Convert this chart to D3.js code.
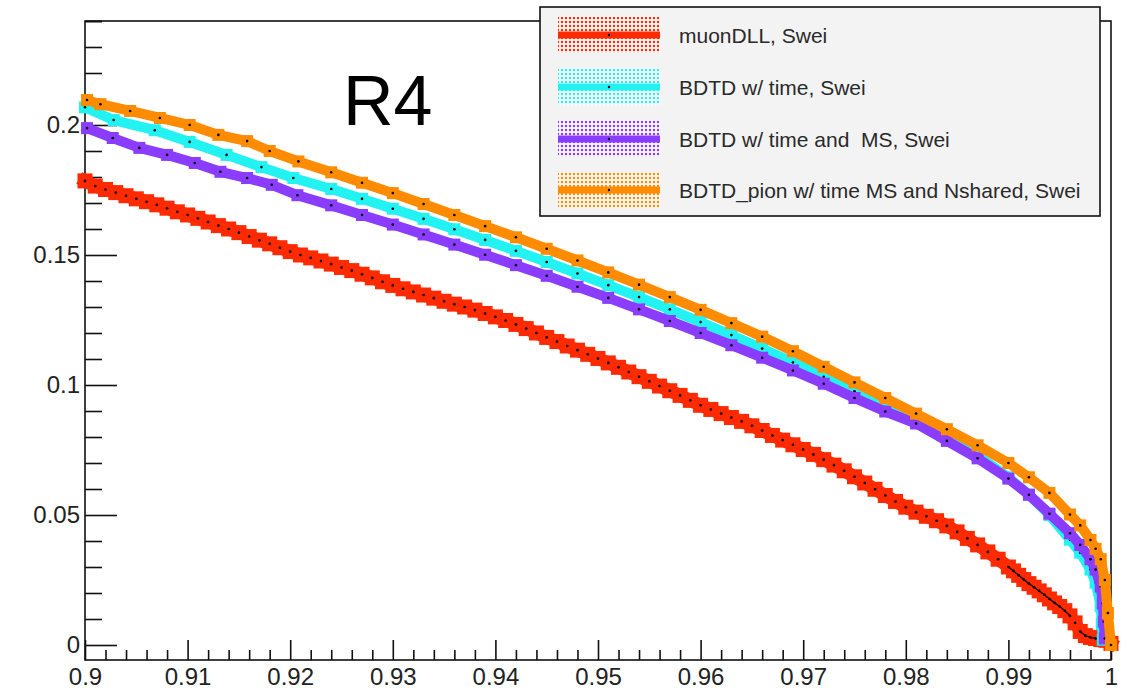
<!DOCTYPE html>
<html><head><meta charset="utf-8">
<script src="https://cdn.jsdelivr.net/npm/d3@7"></script>
<style>
body{margin:0;background:#fff}
svg{display:block}
text{font-family:"Liberation Sans",Arial,Helvetica,sans-serif}
</style>
</head><body>
<svg id="c" width="1130" height="693"></svg>
<script>
// ---------------- data ----------------
const seriesNames = ["muonDLL, Swei","BDTD w/ time, Swei","BDTD w/ time and  MS, Swei","BDTD_pion w/ time MS and Nshared, Swei"];
const seriesColors = ["#ff2a00","#22f2f2","#8a3cff","#ff8c00"];
const xTickLabels = ["0.9","0.91","0.92","0.93","0.94","0.95","0.96","0.97","0.98","0.99","1"];
const yTickLabels = ["0","0.05","0.1","0.15","0.2"];
const titleText = "R4";

const muonDLL = [
[0.900,.1785],[0.901,.1765],[0.902,.1752],[0.903,.1740],[0.904,.1728],[0.905,.1716],[0.906,.1705],[0.907,.1693],[0.908,.1680],[0.909,.1666],
[0.910,.1654],[0.911,.1641],[0.912,.1627],[0.913,.1613],[0.914,.1600],[0.915,.1586],[0.916,.1571],[0.917,.1557],[0.918,.1543],[0.919,.1528],
[0.920,.1513],[0.921,.1500],[0.922,.1489],[0.923,.1477],[0.924,.1465],[0.925,.1452],[0.926,.1440],[0.927,.1426],[0.928,.1412],[0.929,.1397],
[0.930,.1383],[0.931,.1370],[0.932,.1358],[0.933,.1346],[0.934,.1334],[0.935,.1322],[0.936,.1311],[0.937,.1300],[0.938,.1288],[0.939,.1275],
[0.940,.1262],[0.941,.1248],[0.942,.1233],[0.943,.1217],[0.944,.1200],[0.945,.1183],[0.946,.1167],[0.947,.1150],[0.948,.1134],[0.949,.1118],
[0.950,.1102],[0.951,.1085],[0.952,.1068],[0.953,.1050],[0.954,.1032],[0.955,.1014],[0.956,.0996],[0.957,.0978],[0.958,.0960],[0.959,.0941],
[0.960,.0922],[0.961,.0906],[0.962,.0890],[0.963,.0875],[0.964,.0860],[0.965,.0843],[0.966,.0825],[0.967,.0806],[0.968,.0788],[0.969,.0770],
[0.970,.0752],[0.971,.0733],[0.972,.0713],[0.973,.0692],[0.974,.0670],[0.975,.0647],[0.976,.0623],[0.977,.0599],[0.978,.0575],[0.979,.0552],
[0.980,.0530],[0.981,.0511],[0.982,.0495],[0.983,.0478],[0.984,.0458],[0.985,.0435],[0.986,.0410],[0.987,.0385],[0.988,.0358],[0.989,.0330],
[0.990,.0300],[0.9905,.0285],[0.991,.0268],[0.9915,.0252],[0.992,.0236],[0.9925,.0222],[0.993,.0208],[0.9935,.0193],[0.994,.0177],[0.9945,.0162],
[0.995,.0148],[0.9955,.0132],[0.996,.0112],[0.9965,.0085],[0.997,.0052],[0.9975,.0036],[0.998,.0029],[0.9985,.0025],[0.999,.0021],[0.9995,.0018],[1.000,.0006]
];

const bdtdTime = [
[0.900,.2068],[0.9028,.2019],[0.9068,.1980],[0.9102,.1935],[0.9138,.1885],[0.9172,.1838],[0.9203,.1796],
[0.924,.1754],[0.927,.1716],[0.930,.1678],[0.933,.1639],[0.936,.1599],[0.939,.1558],[0.942,.1516],[0.945,.1473],
[0.948,.1429],[0.951,.1384],[0.954,.1338],[0.957,.1291],[0.960,.1242],[0.963,.1192],[0.966,.1140],[0.969,.1087],
[0.972,.1032],[0.975,.0976],[0.978,.0912],[0.981,.0862],[0.984,.0796],[0.987,.0728],[0.990,.0645],[0.992,.0578],
[0.994,.0500],[0.996,.0405],[0.997,.0355],[0.998,.0290],[0.9985,.0240],[0.999,.0150],[0.9991,.0080],[0.9992,.0020]
];

const bdtdTimeMS = [
[0.9002,.1988],[0.9027,.1950],[0.9053,.1912],[0.908,.1885],[0.9107,.1854],[0.9132,.1820],[0.9158,.1796],[0.9182,.1770],[0.9207,.1730],
[0.924,.1691],[0.927,.1654],[0.930,.1617],[0.933,.1579],[0.936,.1540],[0.939,.1501],[0.942,.1461],[0.945,.1420],[0.948,.1378],
[0.951,.1335],[0.954,.1291],[0.957,.1246],[0.960,.1200],[0.963,.1153],[0.966,.1105],[0.969,.1056],[0.972,.1005],[0.975,.0950],
[0.978,.0898],[0.981,.0852],[0.984,.0785],[0.987,.0718],[0.990,.0640],[0.992,.0578],[0.994,.0505],[0.996,.0430],[0.997,.0385],
[0.998,.0330],[0.9985,.0290],[0.999,.0225],[0.9992,.0160],[0.9993,.0090],[0.9994,.0025]
];

const bdtdPion = [
[0.9002,.2096],[0.9015,.2080],[0.9044,.2054],[0.9073,.2027],[0.9102,.2000],[0.9130,.1962],[0.9158,.1938],[0.918,.1900],[0.9208,.1860],
[0.924,.1818],[0.927,.1778],[0.930,.1738],[0.933,.1696],[0.936,.1654],[0.939,.1611],[0.942,.1568],[0.945,.1524],[0.948,.1479],
[0.951,.1433],[0.954,.1386],[0.957,.1338],[0.960,.1289],[0.963,.1238],[0.966,.1186],[0.969,.1130],[0.972,.1070],[0.975,.1010],
[0.978,.0950],[0.981,.0890],[0.984,.0830],[0.987,.0768],[0.990,.0700],[0.992,.0645],[0.994,.0585],[0.996,.0502],[0.997,.0460],
[0.998,.0404],[0.9985,.0370],[0.999,.0330],[0.9994,.0250],[0.9997,.0123],[1.000,.0000]
];

// ---------------- layout ----------------
const svg = d3.select("#c");
const X0 = 85, X1 = 1111, Y0 = 660, Y1 = 21;
const x = d3.scaleLinear().domain([0.9, 1.0]).range([X0, X1]);
const y = d3.scaleLinear().domain([-0.00577, 0.24]).range([Y0, Y1]);

// patterns for legend
const defs = svg.append("defs");
seriesColors.forEach((c,i)=>{
  const p = defs.append("pattern").attr("id","pat"+i).attr("width",4).attr("height",4)
    .attr("patternUnits","userSpaceOnUse");
  p.append("rect").attr("width",4).attr("height",4).attr("fill","#ffffff").attr("opacity",0.6);
  p.append("circle").attr("cx",2).attr("cy",2).attr("r",1.25).attr("fill",c);
});

// axes
const xMajor = xTickLabels.map(Number);
const xMinor = d3.range(0, 51).map(i => 0.9 + i*0.002).filter(v => Math.abs(Math.round(v*100) - v*100) > 1e-6);
const yMajor = yTickLabels.map(Number);
const yMinor = d3.range(0, 25).map(i => i*0.01).filter(v => Math.abs(Math.round(v*20) - v*20) > 1e-6);

const gx = svg.append("g").attr("transform",`translate(0,${Y0})`);
gx.call(d3.axisBottom(x).tickValues(xMajor).tickSize(-20).tickPadding(8)
  .tickFormat((d,i)=>xTickLabels[i]));
gx.append("g").call(d3.axisBottom(x).tickValues(xMinor).tickSize(-10).tickFormat(""))
  .call(g=>g.select(".domain").remove());
gx.selectAll("text").attr("font-size",24).attr("fill","#222").attr("font-family","Liberation Sans, Arial, sans-serif");

const gy = svg.append("g").attr("transform",`translate(${X0},0)`);
gy.call(d3.axisLeft(y).tickValues(yMajor).tickSize(-32).tickPadding(5)
  .tickFormat((d,i)=>yTickLabels[i]));
gy.append("g").call(d3.axisLeft(y).tickValues(yMinor.concat([0.24])).tickSize(-17).tickFormat(""))
  .call(g=>g.select(".domain").remove());
gy.selectAll("text").attr("font-size",24).attr("fill","#222").attr("font-family","Liberation Sans, Arial, sans-serif");
svg.selectAll(".tick line").attr("stroke","#111").attr("stroke-width",1.6);
svg.selectAll(".domain").remove();

// frame
svg.append("rect").attr("x",X0).attr("y",Y1).attr("width",X1-X0).attr("height",Y0-Y1)
  .attr("fill","none").attr("stroke","#111").attr("stroke-width",1.6);

// series
const line = d3.line();
function drawSeries(data, color, band, size){
  const pts = data.map(d => [x(d[0]), y(d[1])]);
  const g = svg.append("g");
  g.append("path").attr("d", line(pts)).attr("fill","none").attr("stroke",color)
    .attr("stroke-width",band).attr("stroke-linejoin","round").attr("stroke-linecap","square");
  g.selectAll("rect").data(pts).join("rect")
    .attr("x",d=>d[0]-size/2).attr("y",d=>d[1]-size/2).attr("width",size).attr("height",size)
    .attr("fill",color);
  for(let i=1;i<pts.length;i++){
    const dx = pts[i][0]-pts[i-1][0], dy = pts[i][1]-pts[i-1][1];
    if (Math.hypot(dx,dy) < 7.5) {
      g.append("line").attr("x1",pts[i-1][0]).attr("y1",pts[i-1][1]).attr("x2",pts[i][0]).attr("y2",pts[i][1])
        .attr("stroke","#000").attr("stroke-width",1.3);
    }
  }
  g.selectAll("circle").data(pts).join("circle")
    .attr("cx",d=>d[0]).attr("cy",d=>d[1]).attr("r",1.3).attr("fill","#000");
}
drawSeries(muonDLL, seriesColors[0], 13, 15);
drawSeries(bdtdTime, seriesColors[1], 10, 12);
drawSeries(bdtdTimeMS, seriesColors[2], 10, 12);
drawSeries(bdtdPion, seriesColors[3], 10, 12);

// title
svg.append("text").attr("x",343).attr("y",125).attr("font-size",70).attr("fill","#000").text(titleText);

// legend
const LX = 540, LY = 7, LW = 560, LH = 209;
svg.append("rect").attr("x",LX).attr("y",LY).attr("width",LW).attr("height",LH)
  .attr("fill","#f3f3f3").attr("stroke","#111").attr("stroke-width",1.6);
const rowY = [35, 87, 139, 190];
seriesNames.forEach((n,i)=>{
  const cy = rowY[i];
  svg.append("rect").attr("x",558).attr("y",cy-18).attr("width",102).attr("height",36).attr("fill",`url(#pat${i})`);
  svg.append("rect").attr("x",558).attr("y",cy-3.5).attr("width",102).attr("height",7).attr("fill",seriesColors[i]);
  svg.append("circle").attr("cx",609).attr("cy",cy).attr("r",1.2).attr("fill","#000");
  svg.append("text").attr("x",679).attr("y",cy+7.5).attr("font-size",21).attr("fill","#2a2a2a")
    .style("white-space","pre").text(n);
});
</script>
</body></html>
